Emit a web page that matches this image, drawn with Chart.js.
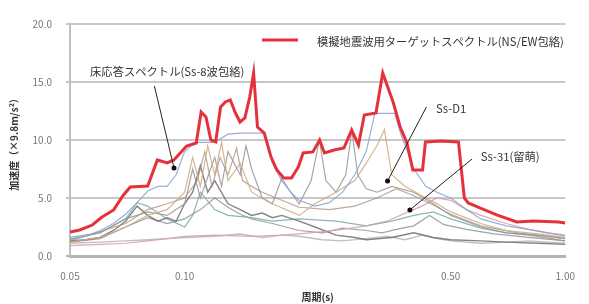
<!DOCTYPE html>
<html><head><meta charset="utf-8">
<script src="https://cdn.jsdelivr.net/npm/chart.js@4/dist/chart.umd.min.js"></script>
<style>html,body{margin:0;padding:0;background:#fff}#wrap{width:589px;height:304px}</style>
</head><body><div id="wrap"><canvas id="c" width="589" height="304"></canvas></div>
<script>
// ---- data (period [s], acceleration [x9.8 m/s^2]) ----
const xTicks = [0.05, 0.10, 0.50, 1.00];
const targetPeriods = [0.05,0.053,0.0572,0.0607,0.0651,0.0691,0.072,0.08,0.0848,0.09,0.0937,0.1012,0.1073,0.1105,0.1138,0.1172,0.1207,0.1243,0.128,0.1318,0.1357,0.1398,0.144,0.1483,0.1518,0.1554,0.1619,0.1687,0.1748,0.1821,0.1909,0.1989,0.2048,0.2172,0.2263,0.233,0.2471,0.2621,0.2747,0.2862,0.2965,0.3182,0.3315,0.3536,0.3684,0.3838,0.3977,0.4217,0.4292,0.4716,0.5241,0.543,0.5559,0.5963,0.663,0.7457,0.8236,0.9598,1.0];
const targetValues  = [2.07,2.24,2.67,3.36,3.97,5.26,5.95,6.03,8.28,8.02,8.28,9.48,9.74,12.41,11.98,10.0,9.83,12.84,13.28,13.45,12.41,11.55,11.9,13.7,15.78,11.12,10.6,8.53,7.41,6.72,6.72,7.67,8.88,8.97,10.0,8.88,9.14,9.31,10.86,9.57,12.16,12.33,15.78,13.19,11.12,9.74,7.41,7.41,9.83,9.91,9.83,5.0,4.57,4.14,3.53,2.93,3.02,2.93,2.84];

const blueP = [0.05,0.055,0.06,0.065,0.07,0.075,0.08,0.085,0.09,0.095,0.1,0.105,0.109,0.12,0.13,0.14,0.15,0.162,0.17,0.18,0.19,0.2,0.22,0.24,0.26,0.28,0.3,0.316,0.356,0.37,0.4,0.43,0.46,0.5,0.55,0.6,0.7,0.8,0.9,1.0];
const blueV = [1.5,1.7,2.2,2.8,3.6,4.6,5.6,6.0,6.0,7.0,9.0,9.6,9.8,9.8,10.5,10.6,10.6,10.6,8.0,6.5,5.5,4.8,4.3,4.6,5.5,7.0,9.0,12.3,12.3,10.5,7.5,6.0,5.5,5.0,4.0,3.2,2.6,2.3,2.0,1.8];

const tanP = [0.05,0.06,0.07,0.08,0.09,0.1,0.105,0.11,0.115,0.12,0.125,0.13,0.14,0.15,0.17,0.2,0.22,0.25,0.28,0.3,0.32,0.335,0.35,0.38,0.42,0.46,0.5,0.6,0.7,0.85,1.0];
const tanV = [1.2,1.6,2.5,3.5,4.0,5.5,8.5,6.0,9.5,7.0,9.8,6.5,8.0,5.5,4.5,3.5,4.5,5.5,6.5,8.0,9.5,10.9,7.0,6.0,5.2,4.5,3.8,2.8,2.2,1.9,1.6];

const spikyP = [0.05,0.06,0.07,0.08,0.09,0.1,0.105,0.11,0.12,0.125,0.13,0.14,0.145,0.15,0.16,0.17,0.18,0.19,0.2,0.215,0.226,0.235,0.25,0.265,0.275,0.285,0.3,0.32,0.35,0.4,0.45,0.5,0.6,0.7,0.8,1.0];
const spikyV = [1.4,2.0,3.2,3.8,3.5,4.5,7.5,5.0,8.5,6.0,9.0,7.0,9.5,7.5,5.0,4.5,6.7,5.5,4.5,6.5,10.0,6.5,5.5,7.0,10.8,7.0,5.8,5.5,6.0,5.5,4.5,3.5,2.5,2.0,1.8,1.3];

const brownP = [0.05,0.07,0.08,0.09,0.1,0.108,0.113,0.118,0.124,0.13,0.137,0.142,0.15,0.16,0.18,0.2,0.24,0.28,0.32,0.36,0.4,0.45,0.5,0.6,0.75,1.0];
const brownV = [1.3,2.8,4.0,4.5,5.0,6.5,9.0,6.0,8.5,7.0,9.3,6.5,6.0,5.5,4.8,4.2,4.0,4.3,5.0,5.8,5.2,4.4,3.6,2.6,2.0,1.5];

const ss31P = [0.05,0.06,0.07,0.08,0.09,0.1,0.12,0.15,0.18,0.2,0.23,0.26,0.3,0.34,0.38,0.42,0.46,0.5,0.55,0.6,0.7,0.8,0.9,1.0];
const ss31V = [0.9,1.0,1.1,1.3,1.5,1.7,1.8,1.7,1.8,1.9,2.1,2.3,2.6,3.0,3.7,4.3,5.0,4.8,4.0,3.5,2.8,2.3,2.0,1.7];

const darkP = [0.05,0.055,0.06,0.065,0.07,0.075,0.08,0.085,0.09,0.095,0.1,0.105,0.11,0.115,0.12,0.13,0.14,0.15,0.16,0.17,0.18,0.2,0.22,0.25,0.28,0.3,0.35,0.4,0.45,0.5,0.6,0.7,0.85,1.0];
const darkV = [1.3,1.4,1.6,2.2,3.0,4.3,3.5,3.0,3.3,3.0,4.5,5.5,7.8,5.5,6.5,4.5,4.0,3.5,3.7,3.3,3.5,3.0,2.5,1.8,1.6,1.4,1.6,2.0,1.6,1.4,1.3,1.2,1.1,1.0];

const tealP = [0.05,0.06,0.07,0.075,0.08,0.09,0.1,0.105,0.11,0.12,0.13,0.15,0.17,0.2,0.25,0.3,0.35,0.4,0.45,0.5,0.6,0.7,0.85,1.0];
const tealV = [1.6,2.0,3.2,4.6,4.3,3.2,2.5,3.5,5.5,4.0,3.5,3.3,3.0,3.2,3.0,2.6,3.0,3.5,3.8,3.2,2.4,2.0,1.8,1.5];

const lightP = [0.05,0.06,0.07,0.08,0.09,0.1,0.12,0.14,0.16,0.18,0.2,0.23,0.26,0.3,0.34,0.38,0.42,0.46,0.5,0.6,0.7,0.8,1.0];
const lightV = [1.1,1.2,1.3,1.4,1.5,1.6,1.7,1.9,1.6,1.8,1.7,1.4,1.3,1.5,1.7,1.4,1.8,1.5,1.3,1.1,1.2,1.3,1.1];

const midP = [0.05,0.06,0.07,0.08,0.09,0.1,0.11,0.12,0.13,0.14,0.15,0.17,0.2,0.23,0.26,0.3,0.33,0.36,0.4,0.44,0.48,0.55,0.65,0.8,1.0];
const midV = [1.2,1.5,2.5,3.3,2.8,3.2,4.0,5.0,4.2,3.6,3.2,2.8,2.2,2.0,2.4,2.2,2.0,2.3,2.6,3.5,2.7,2.3,1.9,1.6,1.3];

const legendLabel = "模擬地震波用ターゲットスペクトル(NS/EW包絡)";
const yTitle = "加速度（×9.8m/s²）";
const xTitle = "周期(s)";
// annotations: label, label anchor (period,value), line start, dot end
const notes = [
  {text:"床応答スペクトル(Ss-8波包絡)", tp:0.0900, tv:15.86, align:"center", sp:0.0833, sv:14.66, ep:0.0938, ev:7.59},
  {text:"Ss-D1", tp:0.4577, tv:12.67, align:"left", sp:0.4316, sv:12.84, ep:0.3413, ev:6.47},
  {text:"Ss-31(留萌)", tp:0.600, tv:8.53, align:"left", sp:0.569, sv:8.36, ep:0.3907, ev:3.97}
];

const pts = (p, v) => p.map((x, i) => ({x, y: v[i]}));
const FONT = "'Noto Sans CJK JP','Noto Sans',sans-serif";

const thin = (label, p, v, color, w) => ({label, data: pts(p, v), borderColor: color, borderWidth: w || 1.2, pointRadius: 0, tension: 0, fill: false});

const extras = {
  id: 'extras',
  afterDatasetsDraw(chart) {
    const {ctx, scales: {x, y}, chartArea} = chart;
    ctx.save();
    // legend
    ctx.strokeStyle = '#e5323a'; ctx.lineWidth = 3;
    ctx.beginPath(); ctx.moveTo(262, 40); ctx.lineTo(298, 40); ctx.stroke();
    ctx.fillStyle = '#333'; ctx.font = "11.3px " + FONT; ctx.textBaseline = 'middle'; ctx.textAlign = 'left';
    ctx.fillText(legendLabel, 317, 42);
    // annotations
    notes.forEach(n => {
      const sx = x.getPixelForValue(n.sp), sy = y.getPixelForValue(n.sv);
      const ex = x.getPixelForValue(n.ep), ey = y.getPixelForValue(n.ev);
      ctx.strokeStyle = '#222'; ctx.lineWidth = 1;
      ctx.beginPath(); ctx.moveTo(sx, sy); ctx.lineTo(ex, ey); ctx.stroke();
      ctx.fillStyle = '#111';
      ctx.beginPath(); ctx.arc(ex, ey, 2.5, 0, Math.PI * 2); ctx.fill();
      ctx.fillStyle = '#333'; ctx.font = "11.3px " + FONT; ctx.textAlign = n.align; ctx.textBaseline = 'middle';
      ctx.fillText(n.text, x.getPixelForValue(n.tp), y.getPixelForValue(n.tv));
    });
    // axis titles
    ctx.fillStyle = '#333'; ctx.font = "bold 10px " + FONT; ctx.textAlign = 'center';
    ctx.fillText(xTitle, (chartArea.left + chartArea.right) / 2, 297);
    ctx.translate(14, (chartArea.top + chartArea.bottom) / 2 + 2);
    ctx.rotate(-Math.PI / 2);
    ctx.fillText(yTitle, 0, 0);
    ctx.restore();
  }
};

new Chart(document.getElementById('c'), {
  type: 'line',
  data: {
    datasets: [
      {label: legendLabel, data: pts(targetPeriods, targetValues), borderColor: '#e5323a', borderWidth: 3, pointRadius: 0, tension: 0, fill: false},
      thin('Ss-D1', blueP, blueV, 'rgba(140,160,210,0.85)'),
      thin('tan', tanP, tanV, 'rgba(205,170,125,0.85)'),
      thin('spiky', spikyP, spikyV, 'rgba(150,150,150,0.85)'),
      thin('brown', brownP, brownV, 'rgba(165,140,125,0.75)'),
      thin('Ss-31', ss31P, ss31V, 'rgba(215,160,175,0.9)'),
      thin('dark', darkP, darkV, 'rgba(110,110,110,0.85)', 1.4),
      thin('teal', tealP, tealV, 'rgba(120,170,165,0.85)'),
      thin('light', lightP, lightV, 'rgba(185,185,185,0.9)', 1.4),
      thin('mid', midP, midV, 'rgba(140,140,140,0.8)')
    ]
  },
  options: {
    responsive: false, animation: false, devicePixelRatio: 1,
    layout: {padding: {left: 0, top: 24, right: 9, bottom: 0}},
    plugins: {legend: {display: false}, tooltip: {enabled: false}},
    scales: {
      x: {
        type: 'logarithmic', min: 0.05, max: 1,
        afterBuildTicks: s => { s.ticks = xTicks.map(v => ({value: v})); },
        afterFit: s => { s.height = 48; },
        ticks: {callback: v => Number(v).toFixed(2), color: '#777', font: {size: 10, family: FONT}, padding: 14, maxRotation: 0, autoSkip: false},
        grid: {display: false, drawTicks: false},
        border: {display: true, color: '#b4b4b4', width: 3}
      },
      y: {
        min: 0, max: 20,
        afterFit: s => { s.width = 70; },
        ticks: {stepSize: 5, callback: v => Number(v).toFixed(1), color: '#777', font: {size: 10, family: FONT}, padding: 14},
        grid: {color: c => c.tick && c.tick.value === 0 ? '#b4b4b4' : '#c8c8c8', lineWidth: 2, tickLength: 4, drawTicks: true},
        border: {display: true, color: '#c0c0c0', width: 2}
      }
    }
  },
  plugins: [extras]
});
</script>
</body></html>
